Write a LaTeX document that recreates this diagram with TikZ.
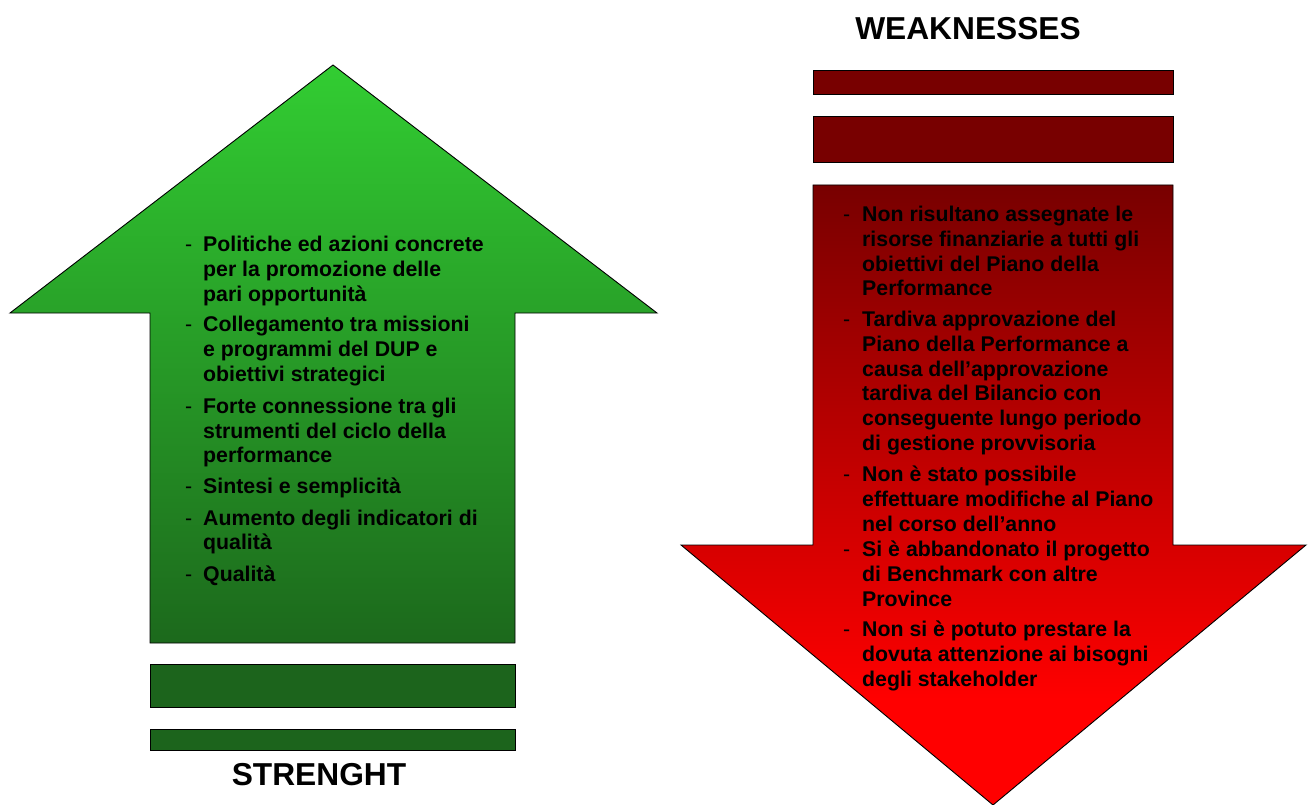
\documentclass[tikz,border=0pt]{standalone}
\usepackage{fontspec}
\setmainfont{Liberation Sans}
\definecolor{barGreen}{RGB}{28,100,28}
\definecolor{barRed}{RGB}{120,0,0}
\definecolor{gTop}{RGB}{50,205,50}
\definecolor{gMid}{RGB}{42,165,42}
\definecolor{gBot}{RGB}{28,105,28}
\definecolor{rTop}{RGB}{120,0,0}
\definecolor{rBot}{RGB}{255,0,0}
% dark red at the top, reaching full red well above the tip
\pgfdeclareverticalshading{redfall}{100bp}{color(0bp)=(rBot); color(25bp)=(rBot);
  color(33.5bp)=(rBot); color(75bp)=(rTop); color(100bp)=(rTop)}
\begin{document}
\begin{tikzpicture}[x=1pt,y=-1pt,
  outline/.style={draw=black,line width=0.9pt,line join=miter},
  greenbar/.style={outline,fill=barGreen},
  redbar/.style={outline,fill=barRed},
  itemtext/.style={anchor=base west,inner sep=0pt,align=left,
    font=\fontsize{21.3}{24.7}\selectfont\bfseries},
  heading/.style={anchor=base,inner sep=0pt,font=\fontsize{31.7}{36}\selectfont\bfseries}]
\newcommand{\itemdash}{\mdseries-}
\useasboundingbox (0,0) rectangle (1315,805);

% strengths: upward arrow with two bars beneath
\draw[outline,top color=gTop,middle color=gMid,bottom color=gBot]
  (333,65) -- (657,313) -- (515,313) -- (515,643) -- (150,643) -- (150,313)
  -- (10,313) -- cycle;
\draw[greenbar] (150,664) rectangle (515,707);
\draw[greenbar] (150,729) rectangle (515,750);
\node[heading] (strenght) at (319,785) {STRENGHT};

% weaknesses: two bars above a downward arrow
\node[heading] (weak) at (968,39.3) {WEAKNESSES};
\draw[redbar] (813,70) rectangle (1173,94);
\draw[redbar] (813,116) rectangle (1173,162);
\shadedraw[outline,shading=redfall]
  (813,185) -- (1173,185) -- (1173,545) -- (1306,545) -- (993,805)
  -- (681,545) -- (813,545) -- cycle;

% strengths list
\node[itemtext] (s1) at (185,251.7) {\begin{tabular}[t]{@{}p{18pt}@{}l@{}}\itemdash & Politiche ed azioni concrete\\ & per la promozione delle\\ & pari opportunità\end{tabular}};
\node[itemtext] (s2) at (185,331.7) {\begin{tabular}[t]{@{}p{18pt}@{}l@{}}\itemdash & Collegamento tra missioni\\ & e programmi del DUP e\\ & obiettivi strategici\end{tabular}};
\node[itemtext] (s3) at (185,413.3) {\begin{tabular}[t]{@{}p{18pt}@{}l@{}}\itemdash & Forte connessione tra gli\\ & strumenti del ciclo della\\ & performance\end{tabular}};
\node[itemtext] (s4) at (185,493.3) {\begin{tabular}[t]{@{}p{18pt}@{}l@{}}\itemdash & Sintesi e semplicità\end{tabular}};
\node[itemtext] (s5) at (185,525) {\begin{tabular}[t]{@{}p{18pt}@{}l@{}}\itemdash & Aumento degli indicatori di\\ & qualità\end{tabular}};
\node[itemtext] (s6) at (185,581.7) {\begin{tabular}[t]{@{}p{18pt}@{}l@{}}\itemdash & Qualità\end{tabular}};

% weaknesses list
\node[itemtext] (w1) at (843,221.7) {\begin{tabular}[t]{@{}p{19pt}@{}l@{}}\itemdash & Non risultano assegnate le\\ & risorse finanziarie a tutti gli\\ & obiettivi del Piano della\\ & Performance\end{tabular}};
\node[itemtext] (w2) at (843,326.7) {\begin{tabular}[t]{@{}p{19pt}@{}l@{}}\itemdash & Tardiva approvazione del\\ & Piano della Performance a\\ & causa dell’approvazione\\ & tardiva del Bilancio con\\ & conseguente lungo periodo\\ & di gestione provvisoria\end{tabular}};
\node[itemtext] (w3) at (843,481.7) {\begin{tabular}[t]{@{}p{19pt}@{}l@{}}\itemdash & Non è stato possibile\\ & effettuare modifiche al Piano\\ & nel corso dell’anno\end{tabular}};
\node[itemtext] (w4) at (843,556.7) {\begin{tabular}[t]{@{}p{19pt}@{}l@{}}\itemdash & Si è abbandonato il progetto\\ & di Benchmark con altre\\ & Province\end{tabular}};
\node[itemtext] (w5) at (843,636.7) {\begin{tabular}[t]{@{}p{19pt}@{}l@{}}\itemdash & Non si è potuto prestare la\\ & dovuta attenzione ai bisogni\\ & degli stakeholder\end{tabular}};
\end{tikzpicture}
\end{document}
